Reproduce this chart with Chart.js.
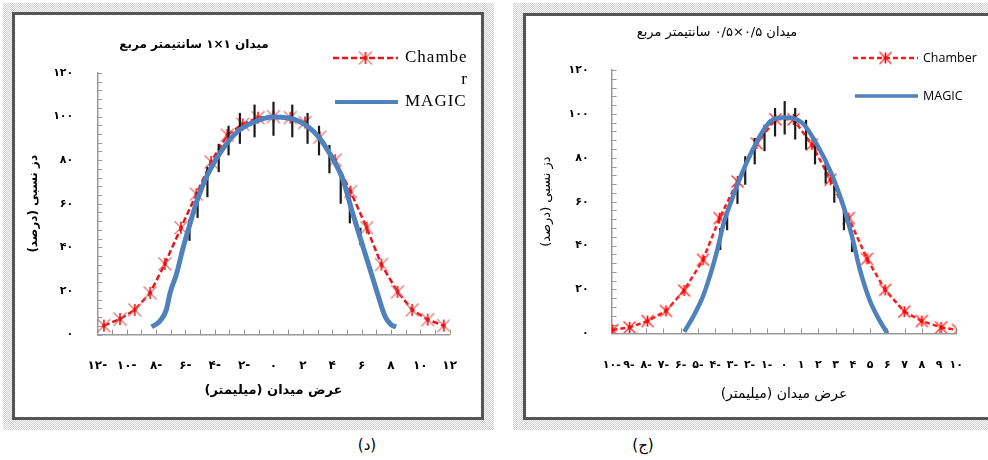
<!DOCTYPE html>
<html>
<head>
<meta charset="utf-8">
<script src="https://cdn.jsdelivr.net/npm/chart.js@4.4.1/dist/chart.umd.min.js"></script>
<style>
  body { margin: 0; width: 988px; height: 460px; background: #fff; position: relative; overflow: hidden; font-family: "DejaVu Sans", sans-serif; }
  .band { position: absolute; background: repeating-conic-gradient(#cfcfcf 0 25%, #fff 0 50%) 0 0 / 2px 2px; }
  .frame { position: absolute; box-sizing: border-box; border: 3px solid #555; background: #fff; }
  canvas { position: absolute; }
  .caption { position: absolute; top: 436px; font: 15px "DejaVu Sans", sans-serif; color: #000; transform: translateX(-50%); }
</style>
</head>
<body>
<div class="band" style="left:3px;top:3px;width:491px;height:427px"></div>
<div class="frame" style="left:12px;top:12px;width:472px;height:408px"></div>
<canvas id="chartD" width="466" height="401" style="left:15px;top:15px"></canvas>

<div class="band" style="left:513px;top:3px;width:480px;height:427px"></div>
<div class="frame" style="left:523px;top:13px;width:480px;height:407px"></div>
<canvas id="chartJ" width="461" height="400" style="left:527px;top:17px"></canvas>

<div class="caption" dir="rtl" style="left:367px">(د)</div>
<div class="caption" dir="rtl" style="left:643px">(ج)</div>

<script>
// ---- field 1x1 cm (left, "د") ----
const leftChamberX = [-11.55, -10.45, -9.45, -8.4, -7.4, -6.3, -5.25, -4.25, -3.15, -2.1, -1.05, 0,
  1.15, 2.15, 3.15, 4.2, 5.25, 6.35, 7.35, 8.45, 9.45, 10.5, 11.6];
const leftChamberY = [4.1, 7.1, 11.3, 19.1, 32.4, 49, 64.4, 79.2, 91.5, 96.5, 99.5, 100,
  99.5, 97.3, 90.5, 80, 65.6, 49, 32.1, 19.6, 11.3, 6.8, 4.1];
const leftMagicX = [-8.3, -7.75, -7.3, -7.05, -6.6, -6.15, -5.7, -5.15, -4.5, -3.6, -2.5, -1.4, 0,
  1.7, 3.0, 3.9, 4.7, 5.35, 5.9, 6.6, 7.15, 7.6, 8.0, 8.35];
const leftMagicY = [3.5, 6, 11.3, 18.9, 27.9, 40, 50.5, 62.6, 73.2, 83.7, 92.8, 97.3, 99.8,
  98, 91.3, 82.2, 71.6, 56.6, 44.5, 29.4, 17.3, 8.3, 4.5, 3.5];
const leftErrX = [-5.72, -5.17, -4.5, -3.73, -3.06, -2.29, -1.29, 0, 1.28, 2.32, 3.1, 3.81, 4.58, 5.2, 5.92];
const leftErrY = [48, 59.5, 70, 81, 89, 94.6, 98, 99, 98, 94.6, 89, 80.5, 66, 56, 45];
const leftErrSize = [5, 6, 7, 6.5, 6.8, 7.1, 7.5, 7.8, 7.5, 7.1, 6.8, 6.5, 6, 5, 4];
const leftXLabels = ["۱۲-", "۱۰-", "۸-", "۶-", "۴-", "۲-", "۰", "۲", "۴", "۶", "۸", "۱۰", "۱۲"];

// ---- field 0.5x0.5 cm (right, "ج") ----
const rightChamberX = [-9.96, -8.96, -7.92, -6.85, -5.8, -4.7, -3.74, -2.7, -1.58, -0.5,
  0.55, 1.62, 2.7, 3.76, 4.82, 5.87, 6.98, 8.0, 9.12, 10.1];
const rightChamberY = [1.5, 2.7, 5.6, 10.2, 19.5, 33.5, 52.5, 69.2, 86.5, 97.5,
  97.5, 86, 70, 52.5, 33.9, 19.8, 9.9, 5.6, 2.7, 1.5];
const rightMagicX = [-5.79, -5.27, -4.71, -4.25, -3.87, -3.5, -3.03, -2.47, -1.73, -0.8, 0,
  1.06, 2.0, 2.74, 3.39, 3.95, 4.41, 4.97, 5.53, 6.0];
const rightMagicY = [0.7, 7.6, 16.7, 27.4, 38, 50.2, 60.9, 72.3, 85, 96.5, 98.3,
  95.9, 84.8, 73, 59.4, 44.1, 28.9, 15.2, 6.1, 0];
const rightErrX = [-3.7, -3.3, -2.7, -2.25, -1.7, -1.13, -0.52, 0.04, 0.65, 1.28, 1.8, 2.42, 2.92, 3.48, 3.95];
const rightErrY = [43, 52, 64, 74.2, 83, 89, 96.2, 98.2, 95.5, 90.5, 83, 74, 63.5, 51, 41];
const rightErrSize = [5, 5, 5, 6.5, 6, 6, 6.5, 7.6, 7.2, 6.8, 6, 5.8, 4, 4, 4];
const rightXLabels = ["۱۰-", "۹-", "۸-", "۷-", "۶-", "۵-", "۴-", "۳-", "۲-", "۱-", "۰",
  "۱", "۲", "۳", "۴", "۵", "۶", "۷", "۸", "۹", "۱۰"];

const yLabels = ["۰", "۲۰", "۴۰", "۶۰", "۸۰", "۱۰۰", "۱۲۰"];
const yTitle = "دز نسبی (درصد)\u200F";
const xTitle = "عرض میدان (میلیمتر)\u200F";

function toPoints(xs, ys) {
  return xs.map((x, i) => ({ x: x, y: ys[i] }));
}

// star marker like the spreadsheet one: an x with a vertical stroke
function makeStar(armColor, coreColor, size) {
  const c = document.createElement("canvas");
  c.width = size; c.height = size;
  const g = c.getContext("2d");
  const m = size / 2, a = size / 2 - 1.5;
  g.lineWidth = 1.4;
  g.strokeStyle = armColor;
  g.beginPath();
  g.moveTo(m - a, m - a); g.lineTo(m + a, m + a);
  g.moveTo(m + a, m - a); g.lineTo(m - a, m + a);
  g.stroke();
  g.strokeStyle = coreColor;
  g.lineWidth = 1.6;
  g.beginPath();
  g.moveTo(m, m - a + 0.5); g.lineTo(m, m + a - 0.5);
  g.stroke();
  g.fillStyle = coreColor;
  g.beginPath(); g.arc(m, m, 2, 0, Math.PI * 2); g.fill();
  return c;
}
const starLeft = makeStar("rgba(215,110,110,0.9)", "#ee1111", 16);
const starRight = makeStar("#ff3030", "#ff0000", 15);

// tick marks pointing into the plot, like the original
const insideTicks = {
  id: "insideTicks",
  beforeDatasetsDraw(chart) {
    const { ctx, scales: { x, y } } = chart;
    ctx.save();
    ctx.strokeStyle = "#9a9a9a";
    ctx.lineWidth = 1;
    for (let v = x.min; v <= x.max + 1e-9; v += 1) {
      const px = Math.round(x.getPixelForValue(v)) + 0.5;
      ctx.beginPath(); ctx.moveTo(px, y.bottom); ctx.lineTo(px, y.bottom - 5); ctx.stroke();
    }
    for (let v = y.min; v <= y.max + 1e-9; v += 4) {
      const py = Math.round(y.getPixelForValue(v)) + 0.5;
      ctx.beginPath(); ctx.moveTo(x.left, py); ctx.lineTo(x.left + 5, py); ctx.stroke();
    }
    ctx.restore();
  },
};

function errorBars(xs, ys, errs, afterIndex, width) {
  return {
    id: "errorBars",
    afterDatasetDraw(chart, args) {
      if (args.index !== afterIndex) return;
      const { ctx, scales: { x, y } } = chart;
      ctx.save();
      ctx.strokeStyle = "#1a1a1a";
      ctx.lineWidth = width;
      xs.forEach((xv, i) => {
        const px = x.getPixelForValue(xv);
        ctx.beginPath();
        ctx.moveTo(px, y.getPixelForValue(ys[i] - errs[i]));
        ctx.lineTo(px, y.getPixelForValue(ys[i] + errs[i]));
        ctx.stroke();
      });
      ctx.restore();
    },
  };
}

// title and legend drawn in the free space of the chart
function decorations(o) {
  return {
    id: "decor",
    afterDraw(chart) {
      const ctx = chart.ctx;
      ctx.save();
      ctx.fillStyle = "#000";
      ctx.direction = "rtl";
      ctx.textAlign = "center";
      ctx.textBaseline = "middle";
      ctx.font = o.titleFont;
      ctx.fillText(o.title, o.titleX, o.titleY);
      ctx.direction = "ltr";

      const ch = o.chamber, mg = o.magic;
      ctx.strokeStyle = ch.color;
      ctx.lineWidth = ch.width;
      ctx.setLineDash(ch.dash);
      ctx.beginPath(); ctx.moveTo(ch.x1, ch.y); ctx.lineTo(ch.x2, ch.y); ctx.stroke();
      ctx.setLineDash([]);
      ctx.drawImage(ch.star, (ch.x1 + ch.x2) / 2 - ch.star.width / 2, ch.y - ch.star.height / 2);
      ctx.strokeStyle = mg.color;
      ctx.lineWidth = mg.width;
      ctx.beginPath(); ctx.moveTo(mg.x1, mg.y); ctx.lineTo(mg.x2, mg.y); ctx.stroke();

      ctx.font = o.legendFont;
      ctx.letterSpacing = o.letterSpacing;
      ctx.textAlign = "left";
      ctx.fillText(ch.lines[0], o.textX, ch.y);
      if (ch.lines[1]) {
        ctx.textAlign = "right";
        ctx.fillText(ch.lines[1], o.wrapRight, ch.y + o.wrapGap);
        ctx.textAlign = "left";
      }
      ctx.fillText(mg.lines[0], o.textX, mg.y);
      ctx.restore();
    },
  };
}

function scalesFor(opt) {
  return {
    x: {
      type: "linear",
      min: opt.xMin, max: opt.xMax,
      afterFit: (s) => { s.height = opt.xHeight; },
      grid: { drawOnChartArea: false, drawTicks: false },
      border: { display: true, color: "#999", width: 1.5 },
      ticks: {
        stepSize: opt.xStep,
        padding: opt.xPad,
        color: "#000",
        font: opt.xTickFont,
        maxRotation: 0,
        autoSkip: false,
        callback: (v, i) => opt.xLabels[i],
      },
      title: {
        display: true,
        text: xTitle,
        color: "#000",
        font: opt.xTitleFont,
        padding: { top: 0, bottom: opt.xTitlePad },
      },
    },
    y: {
      type: "linear",
      min: 0, max: 120,
      afterFit: (s) => { s.width = opt.yWidth; },
      grid: { drawOnChartArea: false, drawTicks: false },
      border: { display: true, color: "#999", width: 1.5 },
      ticks: {
        stepSize: 20,
        padding: opt.yPad,
        color: "#000",
        font: { family: "DejaVu Sans", size: 11, weight: "bold" },
        callback: (v, i) => yLabels[i],
      },
      title: {
        display: true,
        text: yTitle,
        color: "#000",
        font: opt.yTitleFont,
        padding: { top: opt.yTitlePad, bottom: 0 },
      },
    },
  };
}

new Chart(document.getElementById("chartD"), {
  type: "scatter",
  data: {
    datasets: [
      {
        label: "MAGIC",
        data: toPoints(leftMagicX, leftMagicY),
        showLine: true,
        borderColor: "#4f81bd",
        borderWidth: 5,
        pointRadius: 0,
        cubicInterpolationMode: "monotone",
        order: 1,
      },
      {
        label: "Chamber",
        data: toPoints(leftChamberX, leftChamberY),
        showLine: true,
        borderColor: "#e8141b",
        borderWidth: 2.5,
        borderDash: [6, 3],
        pointStyle: starLeft,
        pointRadius: 6,
        order: 2,
      },
    ],
  },
  options: {
    responsive: false,
    animation: false,
    events: [],
    layout: { padding: { top: 58, right: 23, left: 0, bottom: 0 } },
    plugins: { legend: { display: false }, tooltip: { enabled: false } },
    scales: scalesFor({
      xMin: -12, xMax: 12, xStep: 2, xLabels: leftXLabels,
      xTickFont: { family: "DejaVu Sans", size: 12, weight: "bold" },
      xHeight: 81.5, xPad: 24, yWidth: 82.3, yPad: 24,
      xTitleFont: { family: "DejaVu Sans", size: 13, weight: "bold" }, xTitlePad: 18,
      yTitleFont: { family: "DejaVu Sans", size: 12, weight: "bold" }, yTitlePad: 12,
    }),
  },
  plugins: [
    insideTicks,
    errorBars(leftErrX, leftErrY, leftErrSize, 1, 2.2),
    decorations({
      title: "میدان ۱×۱ سانتیمتر مربع",
      titleFont: "bold 12px 'DejaVu Sans'",
      titleX: 179, titleY: 30,
      legendFont: "17px 'Liberation Serif'",
      letterSpacing: "1px",
      textX: 390, wrapRight: 453, wrapGap: 22,
      chamber: { lines: ["Chambe", "r"], y: 43, x1: 318, x2: 383, color: "#e8141b", width: 2.5, dash: [6, 3], star: starLeft },
      magic: { lines: ["MAGIC"], y: 87, x1: 320, x2: 383, color: "#4f81bd", width: 4 },
    }),
  ],
});

new Chart(document.getElementById("chartJ"), {
  type: "scatter",
  data: {
    datasets: [
      {
        label: "MAGIC",
        data: toPoints(rightMagicX, rightMagicY),
        showLine: true,
        borderColor: "#4f81bd",
        borderWidth: 4.5,
        pointRadius: 0,
        cubicInterpolationMode: "monotone",
        order: 1,
      },
      {
        label: "Chamber",
        data: toPoints(rightChamberX, rightChamberY),
        showLine: true,
        borderColor: "#ff1a1a",
        borderWidth: 2.5,
        borderDash: [5, 3],
        pointStyle: starRight,
        pointRadius: 6,
        order: 2,
      },
    ],
  },
  options: {
    responsive: false,
    animation: false,
    events: [],
    layout: { padding: { top: 53, right: 16, left: 0, bottom: 0 } },
    plugins: { legend: { display: false }, tooltip: { enabled: false } },
    scales: scalesFor({
      xMin: -10, xMax: 10, xStep: 1, xLabels: rightXLabels,
      xTickFont: { family: "DejaVu Sans", size: 11, weight: "bold" },
      xHeight: 83.7, xPad: 25, yWidth: 84.7, yPad: 23,
      xTitleFont: { family: "DejaVu Sans", size: 14 }, xTitlePad: 14,
      yTitleFont: { family: "DejaVu Sans", size: 13 }, yTitlePad: 12,
    }),
  },
  plugins: [
    insideTicks,
    errorBars(rightErrX, rightErrY, rightErrSize, 1, 2.2),
    decorations({
      title: "میدان ۰/۵×۰/۵ سانتیمتر مربع",
      titleFont: "13px 'DejaVu Sans'",
      titleX: 190, titleY: 16,
      legendFont: "12.5px 'Open Sans'",
      letterSpacing: "0px",
      textX: 396, wrapRight: 0, wrapGap: 0,
      chamber: { lines: ["Chamber"], y: 41, x1: 326, x2: 391, color: "#ff1a1a", width: 2.5, dash: [5, 3], star: starRight },
      magic: { lines: ["MAGIC"], y: 79, x1: 328, x2: 391, color: "#4f81bd", width: 3.5 },
    }),
  ],
});
</script>
</body>
</html>
